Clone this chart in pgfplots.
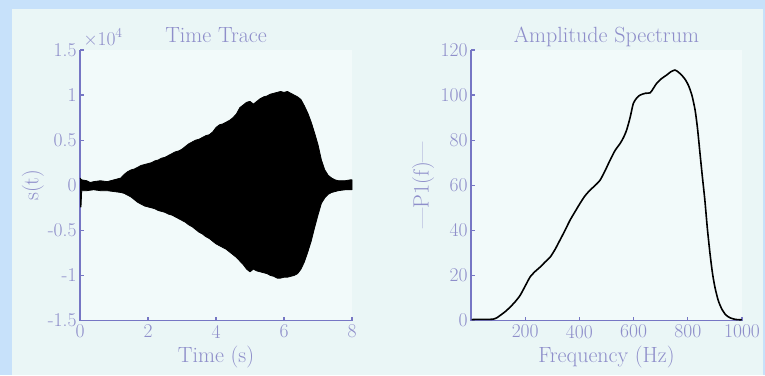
\documentclass[border=0pt]{standalone}
\usepackage{fontspec}
\usepackage{pgfplots}
\pgfplotsset{compat=1.18}

\definecolor{band}{RGB}{199,225,250}
\definecolor{panel}{RGB}{234,246,246}
\definecolor{plotbg}{RGB}{242,250,250}
\definecolor{txt}{RGB}{142,142,202}
\definecolor{axln}{RGB}{118,118,196}

\pgfplotsset{
  panelstyle/.style={
    scale only axis,
    axis x line=bottom, axis y line=left,
    axis line style={-, draw=axln, line width=1.6pt},
    tick align=inside,
    major tick length=4pt,
    tick style={draw=axln, line width=1.2pt},
    /pgf/number format/assume math mode=true,
    /pgf/number format/1000 sep={},
    tick label style={text=txt, font=\fontsize{19.5}{22}\selectfont},
    xticklabel style={yshift=-1pt},
    label style={text=txt, font=\fontsize{22}{26}\selectfont},
    title style={text=txt, font=\fontsize{22}{26}\selectfont, at={(0.5,1)}, anchor=base, yshift=1.5pt},
    axis background/.style={fill=plotbg},
    clip=false,
  }
}

\begin{document}
\begin{tikzpicture}
\path[use as bounding box] (0pt,0pt) rectangle (765pt,375pt);
\fill[band] (0pt,0pt) rectangle (765pt,375pt);
\fill[panel] (12pt,0pt) rectangle (763pt,366pt);

% ---- time trace: envelope of s(t), in units of 10^4 ----
\begin{axis}[panelstyle,
  at={(80pt,54.5pt)}, anchor=south west,
  width=272pt, height=270.5pt,
  xmin=0, xmax=8, ymin=-1.5, ymax=1.5,
  xtick={0,2,4,6,8},
  ytick={-1.5,-1,-0.5,0,0.5,1,1.5},
  yticklabels={-1.5,-1,-0.5,0,0.5,1,1.5},
  title={Time Trace},
  xlabel={Time (s)},
  ylabel={s(t)},
  xlabel style={at={(axis description cs:0.5,-0.135)}, anchor=center},
  ylabel style={at={(axis description cs:-0.173,0.5)}, anchor=center},
]
\addplot[fill=black, draw=black, line width=0.8pt, line join=round] coordinates {
 (0,0.08) (0.05,0.06) (0.2,0.05) (0.3,0.03) (0.4,0.04) (0.6,0.05) (0.8,0.04) (1.0,0.06)
 (1.2,0.08) (1.3,0.12) (1.4,0.15) (1.5,0.17) (1.6,0.18) (1.7,0.20) (1.8,0.22)
 (1.9,0.23) (2.0,0.24) (2.1,0.25) (2.2,0.27) (2.3,0.28) (2.4,0.30) (2.5,0.31)
 (2.6,0.33) (2.7,0.35) (2.8,0.37) (2.9,0.38) (3.0,0.40) (3.1,0.43) (3.2,0.46)
 (3.3,0.48) (3.4,0.50) (3.5,0.51) (3.6,0.53) (3.7,0.55) (3.8,0.56) (3.9,0.59)
 (4.0,0.64) (4.1,0.67) (4.2,0.68) (4.3,0.70) (4.4,0.72) (4.5,0.75) (4.6,0.79)
 (4.7,0.86) (4.8,0.89) (4.9,0.92) (5.0,0.93) (5.1,0.90) (5.2,0.93) (5.3,0.96)
 (5.4,0.98) (5.5,0.99) (5.6,1.01) (5.7,1.02) (5.8,1.03) (5.9,1.04) (6.0,1.03)
 (6.1,1.04) (6.2,1.02) (6.3,1.00) (6.4,0.98) (6.5,0.95) (6.6,0.88) (6.7,0.80)
 (6.8,0.70) (6.9,0.58) (7.0,0.45) (7.1,0.28) (7.2,0.17) (7.3,0.11) (7.4,0.08)
 (7.5,0.06) (7.6,0.05) (7.8,0.05) (7.95,0.06) (8.0,0.06)
 (8.0,-0.05) (7.95,-0.05) (7.8,-0.05) (7.6,-0.06) (7.5,-0.07) (7.4,-0.08)
 (7.3,-0.10) (7.2,-0.14) (7.1,-0.20) (7.0,-0.33) (6.9,-0.47) (6.8,-0.62)
 (6.7,-0.74) (6.6,-0.85) (6.5,-0.93) (6.4,-0.98) (6.3,-1.00) (6.2,-1.01)
 (6.1,-1.02) (6.0,-1.02) (5.9,-1.03) (5.8,-1.03) (5.7,-1.01) (5.6,-1.00)
 (5.5,-0.98) (5.4,-0.97) (5.3,-0.96) (5.2,-0.95) (5.1,-0.93) (5.0,-0.96)
 (4.9,-0.93) (4.8,-0.88) (4.7,-0.84) (4.6,-0.80) (4.5,-0.77) (4.4,-0.74)
 (4.3,-0.71) (4.2,-0.69) (4.1,-0.67) (4.0,-0.65) (3.9,-0.62) (3.8,-0.59)
 (3.7,-0.57) (3.6,-0.54) (3.5,-0.52) (3.4,-0.49) (3.3,-0.46) (3.2,-0.44)
 (3.1,-0.41) (3.0,-0.39) (2.9,-0.37) (2.8,-0.35) (2.7,-0.33) (2.6,-0.32)
 (2.5,-0.30) (2.4,-0.29) (2.3,-0.28) (2.2,-0.26) (2.1,-0.25) (2.0,-0.24)
 (1.9,-0.23) (1.8,-0.21) (1.7,-0.19) (1.6,-0.16) (1.5,-0.13) (1.4,-0.11)
 (1.3,-0.09) (1.2,-0.08) (1.0,-0.07) (0.8,-0.06) (0.6,-0.06) (0.4,-0.05)
 (0.2,-0.06) (0.05,-0.06) (0.03,-0.24) (0,-0.24)
};
\node[text=txt, font=\fontsize{19.5}{22}\selectfont, anchor=base west, xshift=0pt, yshift=5pt]
  at (rel axis cs:0,1) {\texttimes10\textsuperscript{4}};
\end{axis}

% ---- one-sided amplitude spectrum ----
\begin{axis}[panelstyle,
  at={(471pt,54.5pt)}, anchor=south west,
  width=271pt, height=270.5pt,
  xmin=0, xmax=1000, ymin=0, ymax=120,
  xtick={200,400,600,800,1000},
  ytick={0,20,40,60,80,100,120},
  title={Amplitude Spectrum},
  xlabel={Frequency (Hz)},
  ylabel={---P1(f)---},
  xlabel style={at={(axis description cs:0.5,-0.135)}, anchor=center},
  ylabel style={at={(axis description cs:-0.177,0.5)}, anchor=center},
]
\addplot[black, line width=1.6pt, smooth, tension=0.4] coordinates {
 (2,0.4) (20,0.5) (40,0.5) (60,0.5) (82,0.6) (95,1.2) (107,2.2) (125,3.8)
 (144,5.9) (162,8.2) (181,11.1) (200,15.3) (218,19.3) (237,21.8) (255,23.7)
 (273,25.9) (292,28.1) (310,31.5) (328,35.6) (347,40) (365,44.4) (384,48.3)
 (402,51.9) (420,55.2) (439,57.8) (457,59.8) (476,62.2) (495,66.5) (513,71.1)
 (532,75.5) (550,78.5) (562,81) (574,84.4) (587,90) (599,96.3) (612,98.8)
 (624,100) (643,100.8) (661,101) (673,103) (685,105.2) (703,107.3) (722,108.9)
 (738,110.4) (753,111.1) (765,110.2) (777,108.9) (790,107) (802,104.4)
 (815,100) (827,93.3) (836,85) (845,74.1) (854,63.5) (863,53.3) (872,41)
 (882,29.6) (891,21) (900,14.8) (912,9) (925,5.2) (940,2.5) (956,1.2)
 (975,0.5) (999,0.3)
};
\end{axis}
\end{tikzpicture}
\end{document}
